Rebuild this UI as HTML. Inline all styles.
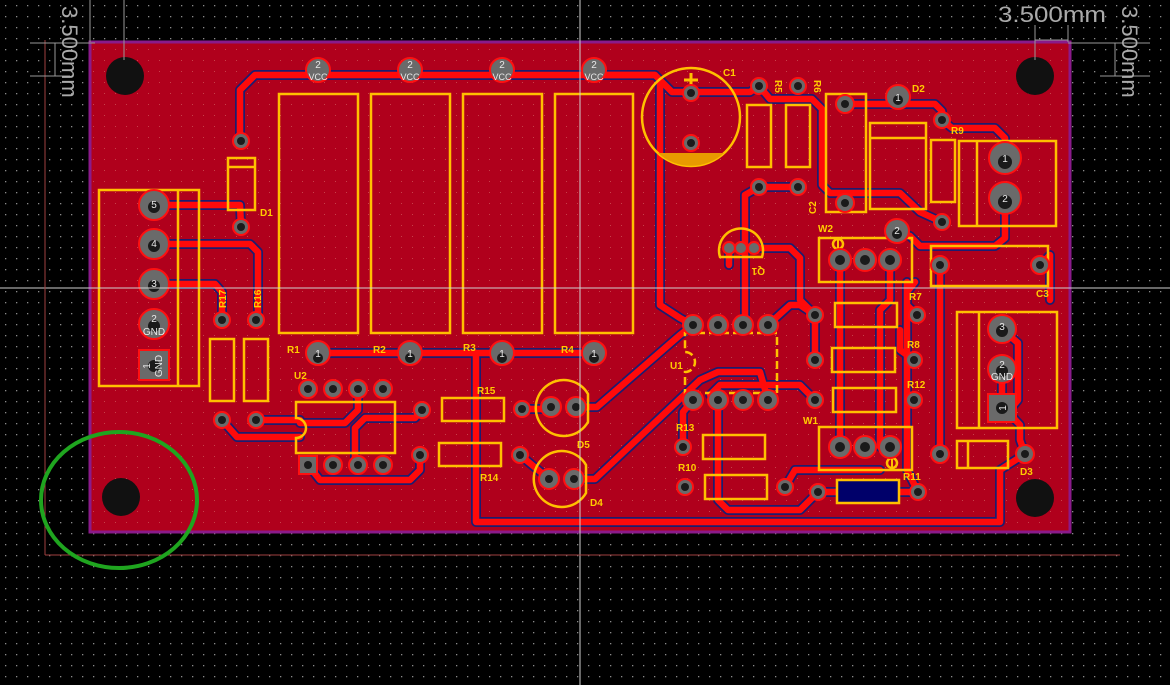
<!DOCTYPE html>
<html><head><meta charset="utf-8"><style>
html,body{margin:0;padding:0;background:#000;}
svg{display:block}
text{font-family:"Liberation Sans",sans-serif;}
.lb{fill:#ffcc00;font-size:10px;font-weight:bold;}
.pn{fill:#e8e8e8;font-size:10px;text-anchor:middle;}
.sk{fill:none;stroke:#ffc000;stroke-width:2.5;}
</style></head><body>
<svg width="1170" height="685" viewBox="0 0 1170 685" xmlns="http://www.w3.org/2000/svg">
<defs>
<pattern id="g" width="11" height="11" patternUnits="userSpaceOnUse"><rect x="5" y="5" width="1.3" height="1.3" fill="#8a8a8a"/></pattern>
<pattern id="g2" width="11" height="11" patternUnits="userSpaceOnUse"><rect x="5" y="5" width="1" height="1" fill="#c8404a"/></pattern>
</defs>
<rect width="1170" height="685" fill="#000"/>
<rect width="1170" height="685" fill="url(#g)"/>
<rect x="90" y="42" width="980" height="490" fill="#b0001c" stroke="#8a1a8a" stroke-width="3"/>
<rect x="92" y="44" width="976" height="486" fill="url(#g2)"/>
<g fill="none" stroke-linejoin="round" stroke-linecap="round">
<g stroke="#1c1c70" stroke-width="10">
<path id="p1" d="M240,141 V90 L255,75 H655 L672,92 H750 L759,86"/>
<path id="p2" d="M759,86 L770,99 H812 L822,109 V185 L830,193 H900 L920,212 L942,222"/>
<path id="p3" d="M845,104 H898 H935 L942,111 V120 L952,128 H995 L1005,138 V158"/>
<path id="p4" d="M1005,198 V238 L995,246 H920 L910,236 L897,231"/>
<path id="p5" d="M759,187 H798 M759,187 L745,195 V320 L743,325"/>
<path id="p6" d="M660,80 V305 L680,318 L693,325"/>
<path id="p7" d="M318,353 H594"/>
<path id="p8" d="M476,353 V522 H1000 V470 L1025,454"/>
<path id="p9" d="M1002,329 L1018,343 V400 L1008,412 L1020,425 V440 L1025,454"/>
<path id="p10" d="M154,205 H240 L241,227 M154,244 H250 L258,252 V320 M154,284 H215 L222,292 V320"/>
<path id="p11" d="M222,420 L237,437 H300 M256,420 H300 M358,389 V410 L345,423 H300"/>
<path id="p12" d="M422,410 L415,418 H365 L355,428 V465 M420,455 V470 L410,480 H320 L308,465"/>
<path id="p13" d="M576,407 H597 L680,335 L693,325 M574,479 H595 L700,380 L718,372 H760 L768,400"/>
<path id="p14" d="M718,400 V500 L728,510 H800 L818,492 H918 M693,400 L683,412 V447"/>
<path id="p15" d="M840,260 V447 M890,260 V300 L880,310 V447"/>
<path id="p16" d="M815,315 V360 M815,400 L800,385 H720 L710,395 M785,487 L795,470 H880 M768,325 L790,305 H800 L815,315"/>
<path id="p17" d="M917,315 L907,305 V292 L915,282 M907,282 V470 L918,492 M940,265 V454 M1040,265 L1050,255 V300"/>
<path id="p18" d="M729,248 V265 M754,248 H790 L800,258 V300 L815,315 M522,409 H551 M520,455 L549,479"/>
<path id="p19" d="M598,75 H655 M1002,369 V408 M914,360 L900,350 V330"/>
</g>
<g stroke="#ff0a0a" stroke-width="6.5">
<use href="#p1"/><use href="#p2"/><use href="#p3"/><use href="#p4"/><use href="#p5"/><use href="#p6"/><use href="#p7"/><use href="#p8"/><use href="#p9"/><use href="#p10"/><use href="#p11"/><use href="#p12"/><use href="#p13"/><use href="#p14"/><use href="#p15"/><use href="#p16"/><use href="#p17"/><use href="#p18"/><use href="#p19"/>
</g>
</g>
<rect x="837" y="480" width="62" height="23" fill="#00006a" stroke="#ffc000" stroke-width="2.5"/>
<g class="sk">
<rect x="279" y="94" width="79" height="239"/><rect x="371" y="94" width="79" height="239"/>
<rect x="463" y="94" width="79" height="239"/><rect x="555" y="94" width="78" height="239"/>
<rect x="99" y="190" width="100" height="196"/><line x1="178" y1="190" x2="178" y2="386"/>
<rect x="228" y="158" width="27" height="52"/><line x1="228" y1="167" x2="255" y2="167"/>
<rect x="210" y="339" width="24" height="62"/><rect x="244" y="339" width="24" height="62"/>
<path d="M296,402 H395 V453 H296 V438 A10,10 0 0 0 296,418 Z"/>
<rect x="442" y="398" width="62" height="23"/><rect x="439" y="443" width="62" height="23"/>
<path d="M588,394 A28,28 0 1 0 588,422 Z"/><path d="M586,465 A28,28 0 1 0 586,493 Z"/>
<path d="M685,333 H777 V393 H685 V372 A10,10 0 0 0 685,352 Z" stroke-dasharray="8,4"/>
<circle cx="691" cy="117" r="49"/>
<rect x="747" y="105" width="24" height="62"/><rect x="786" y="105" width="24" height="62"/>
<rect x="826" y="94" width="40" height="118"/>
<rect x="870" y="123" width="56" height="86"/><line x1="870" y1="138" x2="926" y2="138"/>
<rect x="931" y="140" width="24" height="62"/>
<rect x="959" y="141" width="97" height="85"/><line x1="977" y1="141" x2="977" y2="226"/>
<rect x="819" y="238" width="93" height="44"/>
<rect x="931" y="246" width="117" height="40"/>
<path d="M720,257 A22,22 0 1 1 762,257 Z"/>
<rect x="835" y="303" width="62" height="24"/><rect x="832" y="348" width="63" height="24"/><rect x="833" y="388" width="63" height="24"/>
<rect x="957" y="312" width="100" height="116"/><line x1="979" y1="312" x2="979" y2="428"/>
<rect x="819" y="427" width="93" height="43"/>
<rect x="703" y="435" width="62" height="24"/><rect x="705" y="475" width="62" height="24"/>
<rect x="957" y="441" width="51" height="27"/><line x1="968" y1="441" x2="968" y2="468"/>
</g>
<path d="M658,153 H724 A49,49 0 0 1 658,153 Z" fill="#e89a00"/>
<path d="M691,73 V87 M684,80 H698" stroke="#ffc000" stroke-width="3"/>
<circle cx="838" cy="244" r="5" fill="none" stroke="#ffc000" stroke-width="2.5"/><line x1="838" y1="239" x2="838" y2="249" stroke="#ffc000" stroke-width="2"/>
<circle cx="892" cy="463" r="5" fill="none" stroke="#ffc000" stroke-width="2.5"/><line x1="892" y1="458" x2="892" y2="468" stroke="#ffc000" stroke-width="2"/>
<g fill="#6a6a6a" stroke="#ff1010" stroke-width="2">
<circle cx="318" cy="70" r="12"/><circle cx="410" cy="70" r="12"/><circle cx="502" cy="70" r="12"/><circle cx="594" cy="70" r="12"/>
<circle cx="318" cy="353" r="12"/><circle cx="410" cy="353" r="12"/><circle cx="502" cy="353" r="12"/><circle cx="594" cy="353" r="12"/>
<circle cx="154" cy="205" r="15"/><circle cx="154" cy="244" r="15"/><circle cx="154" cy="284" r="15"/><circle cx="154" cy="324" r="15"/>
<circle cx="1005" cy="158" r="16"/><circle cx="1005" cy="198" r="16"/>
<circle cx="1002" cy="329" r="14"/><circle cx="1002" cy="369" r="14"/>
<circle cx="898" cy="97" r="12"/><circle cx="897" cy="231" r="12"/>
<circle cx="840" cy="260" r="11"/><circle cx="865" cy="260" r="11"/><circle cx="890" cy="260" r="11"/>
<circle cx="840" cy="447" r="11"/><circle cx="865" cy="447" r="11"/><circle cx="890" cy="447" r="11"/>
<circle cx="693" cy="325" r="10"/><circle cx="718" cy="325" r="10"/><circle cx="743" cy="325" r="10"/><circle cx="768" cy="325" r="10"/>
<circle cx="693" cy="400" r="10"/><circle cx="718" cy="400" r="10"/><circle cx="743" cy="400" r="10"/><circle cx="768" cy="400" r="10"/>
<circle cx="308" cy="389" r="9"/><circle cx="333" cy="389" r="9"/><circle cx="358" cy="389" r="9"/><circle cx="383" cy="389" r="9"/>
<circle cx="333" cy="465" r="9"/><circle cx="358" cy="465" r="9"/><circle cx="383" cy="465" r="9"/>
<circle cx="551" cy="407" r="10"/><circle cx="576" cy="407" r="10"/><circle cx="549" cy="479" r="10"/><circle cx="574" cy="479" r="10"/>
<circle cx="729" cy="248" r="6"/><circle cx="741" cy="248" r="6"/><circle cx="754" cy="248" r="6"/>
<circle cx="241" cy="141" r="8"/><circle cx="241" cy="227" r="8"/><circle cx="222" cy="320" r="8"/><circle cx="256" cy="320" r="8"/>
<circle cx="222" cy="420" r="8"/><circle cx="256" cy="420" r="8"/><circle cx="422" cy="410" r="8"/><circle cx="420" cy="455" r="8"/>
<circle cx="522" cy="409" r="8"/><circle cx="520" cy="455" r="8"/>
<circle cx="691" cy="93" r="8"/><circle cx="691" cy="143" r="8"/>
<circle cx="759" cy="86" r="8"/><circle cx="798" cy="86" r="8"/><circle cx="759" cy="187" r="8"/><circle cx="798" cy="187" r="8"/>
<circle cx="845" cy="104" r="9"/><circle cx="845" cy="203" r="9"/><circle cx="942" cy="120" r="8"/><circle cx="942" cy="222" r="8"/>
<circle cx="940" cy="265" r="9"/><circle cx="1040" cy="265" r="9"/>
<circle cx="815" cy="315" r="8"/><circle cx="815" cy="360" r="8"/><circle cx="815" cy="400" r="8"/>
<circle cx="917" cy="315" r="8"/><circle cx="914" cy="360" r="8"/><circle cx="914" cy="400" r="8"/>
<circle cx="683" cy="447" r="8"/><circle cx="685" cy="487" r="8"/><circle cx="785" cy="487" r="8"/><circle cx="818" cy="492" r="8"/><circle cx="918" cy="492" r="8"/>
<circle cx="940" cy="454" r="9"/><circle cx="1025" cy="454" r="9"/>
</g>
<rect x="139" y="350" width="30" height="30" fill="#6a6a6a" stroke="#ff1010" stroke-width="2"/>
<rect x="988" y="394" width="28" height="28" fill="#6a6a6a" stroke="#ff1010" stroke-width="2"/>
<rect x="299" y="456" width="18" height="18" fill="#6a6a6a" stroke="#ff1010" stroke-width="2"/>
<g fill="#1a1a1a">
<circle cx="154" cy="207" r="6"/><circle cx="154" cy="246" r="6"/><circle cx="154" cy="286" r="6"/><circle cx="154" cy="326" r="6"/><circle cx="154" cy="366" r="6"/>
<circle cx="1005" cy="162" r="7"/><circle cx="1005" cy="202" r="7"/><circle cx="1002" cy="331" r="6"/><circle cx="1002" cy="371" r="6"/><circle cx="1002" cy="408" r="6"/>
<circle cx="241" cy="141" r="4"/><circle cx="241" cy="227" r="4"/><circle cx="222" cy="320" r="4"/><circle cx="256" cy="320" r="4"/>
<circle cx="222" cy="420" r="4"/><circle cx="256" cy="420" r="4"/><circle cx="422" cy="410" r="4"/><circle cx="420" cy="455" r="4"/>
<circle cx="318" cy="358" r="5"/><circle cx="410" cy="358" r="5"/><circle cx="502" cy="358" r="5"/><circle cx="594" cy="358" r="5"/>
<circle cx="898" cy="100" r="5"/><circle cx="897" cy="234" r="5"/>
<circle cx="522" cy="409" r="4"/><circle cx="520" cy="455" r="4"/>
<circle cx="691" cy="93" r="4"/><circle cx="691" cy="143" r="4"/>
<circle cx="759" cy="86" r="4"/><circle cx="798" cy="86" r="4"/><circle cx="759" cy="187" r="4"/><circle cx="798" cy="187" r="4"/>
<circle cx="845" cy="104" r="4"/><circle cx="845" cy="203" r="4"/><circle cx="942" cy="120" r="4"/><circle cx="942" cy="222" r="4"/>
<circle cx="940" cy="265" r="4"/><circle cx="1040" cy="265" r="4"/>
<circle cx="815" cy="315" r="4"/><circle cx="815" cy="360" r="4"/><circle cx="815" cy="400" r="4"/>
<circle cx="917" cy="315" r="4"/><circle cx="914" cy="360" r="4"/><circle cx="914" cy="400" r="4"/>
<circle cx="683" cy="447" r="4"/><circle cx="685" cy="487" r="4"/><circle cx="785" cy="487" r="4"/><circle cx="818" cy="492" r="4"/><circle cx="918" cy="492" r="4"/>
<circle cx="940" cy="454" r="4"/><circle cx="1025" cy="454" r="4"/>
<circle cx="840" cy="260" r="5"/><circle cx="865" cy="260" r="5"/><circle cx="890" cy="260" r="5"/>
<circle cx="840" cy="447" r="5"/><circle cx="865" cy="447" r="5"/><circle cx="890" cy="447" r="5"/>
<circle cx="693" cy="325" r="4"/><circle cx="718" cy="325" r="4"/><circle cx="743" cy="325" r="4"/><circle cx="768" cy="325" r="4"/>
<circle cx="693" cy="400" r="4"/><circle cx="718" cy="400" r="4"/><circle cx="743" cy="400" r="4"/><circle cx="768" cy="400" r="4"/>
<circle cx="308" cy="389" r="4"/><circle cx="333" cy="389" r="4"/><circle cx="358" cy="389" r="4"/><circle cx="383" cy="389" r="4"/>
<circle cx="308" cy="465" r="4"/><circle cx="333" cy="465" r="4"/><circle cx="358" cy="465" r="4"/><circle cx="383" cy="465" r="4"/>
<circle cx="551" cy="407" r="4"/><circle cx="576" cy="407" r="4"/><circle cx="549" cy="479" r="4"/><circle cx="574" cy="479" r="4"/>
</g>
<g fill="#111">
<circle cx="125" cy="76" r="19"/><circle cx="1035" cy="76" r="19"/><circle cx="121" cy="497" r="19"/><circle cx="1035" cy="498" r="19"/>
</g>
<g class="pn">
<text x="318" y="68">2</text><text x="318" y="80" font-size="9">VCC</text>
<text x="410" y="68">2</text><text x="410" y="80" font-size="9">VCC</text>
<text x="502" y="68">2</text><text x="502" y="80" font-size="9">VCC</text>
<text x="594" y="68">2</text><text x="594" y="80" font-size="9">VCC</text>
<text x="318" y="357">1</text><text x="410" y="357">1</text><text x="502" y="357">1</text><text x="594" y="357">1</text>
<text x="154" y="208">5</text><text x="154" y="247">4</text><text x="154" y="287">3</text>
<text x="154" y="322">2</text><text x="154" y="335">GND</text>
<text x="1005" y="162">1</text><text x="1005" y="202">2</text>
<text x="1002" y="330">3</text><text x="1002" y="368">2</text><text x="1002" y="380">GND</text>
<text x="898" y="101">1</text><text x="897" y="234">2</text>
<text transform="translate(150,366) rotate(-90)">1</text><text transform="translate(162,366) rotate(-90)">GND</text>
<text transform="translate(1006,408) rotate(-90)">1</text>
</g>
<g class="lb">
<text x="723" y="76">C1</text><text x="912" y="92">D2</text><text x="951" y="134">R9</text>
<text x="818" y="232">W2</text><text x="1036" y="297">C3</text><text x="909" y="300">R7</text>
<text x="907" y="348">R8</text><text x="907" y="388">R12</text><text x="803" y="424">W1</text>
<text x="903" y="480">R11</text><text x="1020" y="475">D3</text><text x="676" y="431">R13</text>
<text x="678" y="471">R10</text><text x="670" y="369">U1</text><text x="577" y="448">D5</text>
<text x="590" y="506">D4</text><text x="477" y="394">R15</text><text x="480" y="481">R14</text>
<text x="294" y="379">U2</text><text x="287" y="353">R1</text><text x="373" y="353">R2</text>
<text x="463" y="351">R3</text><text x="561" y="353">R4</text><text x="260" y="216">D1</text>
<text transform="translate(775,80) rotate(90)">R5</text><text transform="translate(814,80) rotate(90)">R6</text>
<text transform="translate(816,214) rotate(-90)">C2</text>
<text transform="translate(226,308) rotate(-90)">R17</text><text transform="translate(261,308) rotate(-90)">R16</text>
<text transform="translate(765,268) rotate(180)">Q1</text>
</g>
<line x1="580" y1="0" x2="580" y2="685" stroke="#d0d0d0" stroke-width="1"/>
<line x1="0" y1="288" x2="1170" y2="288" stroke="#d0d0d0" stroke-width="1"/>
<line x1="45" y1="40" x2="45" y2="555" stroke="#a04040" stroke-width="1"/>
<line x1="45" y1="555" x2="1120" y2="555" stroke="#a04040" stroke-width="1"/>
<g stroke="#999" stroke-width="1" fill="none">
<line x1="90" y1="0" x2="90" y2="42"/><line x1="124" y1="0" x2="124" y2="60"/>
<line x1="30" y1="43" x2="95" y2="43"/><line x1="30" y1="76" x2="70" y2="76"/>
<line x1="1035" y1="25" x2="1035" y2="60"/><line x1="1068" y1="25" x2="1068" y2="42"/>
<line x1="1035" y1="40" x2="1068" y2="40"/><line x1="1068" y1="43" x2="1150" y2="43"/><line x1="1100" y1="76" x2="1150" y2="76"/>
<line x1="1115" y1="43" x2="1115" y2="76"/><line x1="55" y1="43" x2="55" y2="76"/>
</g>
<g fill="#aaa" font-size="22" font-family="Liberation Sans,sans-serif">
<text transform="translate(62,6) rotate(90)">3.500mm</text>
<text x="998" y="22" textLength="108" lengthAdjust="spacingAndGlyphs">3.500mm</text>
<text transform="translate(1122,6) rotate(90)">3.500mm</text>
</g>
<ellipse cx="119" cy="500" rx="78" ry="68" fill="none" stroke="#1fa51f" stroke-width="4"/>
</svg>
</body></html>
